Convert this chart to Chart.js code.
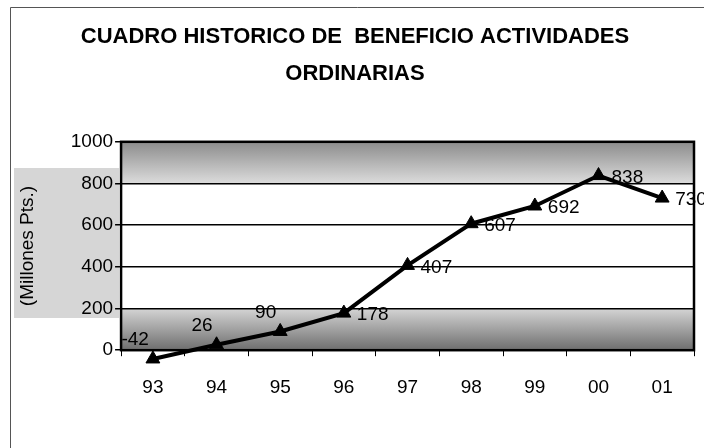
<!DOCTYPE html>
<html>
<head>
<meta charset="utf-8">
<script src="https://cdn.jsdelivr.net/npm/chart.js@4.4.0/dist/chart.umd.min.js"></script>
<style>
  html, body { margin: 0; background: #fff; }
  #wrap { width: 704px; height: 448px; position: relative; }
</style>
</head>
<body>
<div id="wrap"><canvas id="grafico" width="704" height="448"></canvas></div>
<script>
// Datos del cuadro
const anios = ['93', '94', '95', '96', '97', '98', '99', '00', '01'];
const beneficio = [-42, 26, 90, 178, 407, 607, 692, 838, 730];
const ticksY = [0, 200, 400, 600, 800, 1000];
const titulo = ['CUADRO HISTORICO DE  BENEFICIO ACTIVIDADES', 'ORDINARIAS'];
const tituloEje = '(Millones Pts.)';

const fuente = '"Liberation Sans", Arial, sans-serif';

// Fondo: marco exterior y bandas grises del area de trazado
const fondo = {
    id: 'fondo',
    beforeDraw(chart) {
        const { ctx, chartArea: a, scales: { y } } = chart;
        ctx.save();
        ctx.fillStyle = '#fff';
        ctx.fillRect(0, 0, chart.width, chart.height);

        ctx.strokeStyle = '#555';
        ctx.lineWidth = 1;
        ctx.beginPath();
        ctx.moveTo(10.5, chart.height);
        ctx.lineTo(10.5, 7.5);
        ctx.lineTo(chart.width, 7.5);
        ctx.stroke();

        const y1000 = y.getPixelForValue(1000);
        const y800 = y.getPixelForValue(800);
        const y200 = y.getPixelForValue(200);
        const y0 = y.getPixelForValue(0);

        let g = ctx.createLinearGradient(0, y1000, 0, y800);
        g.addColorStop(0, '#8c8c8c');
        g.addColorStop(1, '#dcdcdc');
        ctx.fillStyle = g;
        ctx.fillRect(a.left, y1000, a.right - a.left, y800 - y1000);

        g = ctx.createLinearGradient(0, y200, 0, y0);
        g.addColorStop(0, '#d4d4d4');
        g.addColorStop(1, '#6e6e6e');
        ctx.fillStyle = g;
        ctx.fillRect(a.left, y200, a.right - a.left, y0 - y200);

        ctx.fillStyle = 'rgba(0,0,0,0.16)';
        ctx.fillRect(14, 168, a.left - 16, 150);
        ctx.restore();
    },
    beforeDatasetsDraw(chart) {
        const { ctx, chartArea: a } = chart;
        ctx.save();
        ctx.strokeStyle = '#000';
        ctx.lineWidth = 2.5;
        ctx.strokeRect(a.left, a.top, a.right - a.left, a.bottom - a.top);
        ctx.restore();
    }
};

// Etiquetas de valor junto a cada punto
const etiquetas = {
    id: 'etiquetas',
    afterDatasetsDraw(chart) {
        const ctx = chart.ctx;
        const meta = chart.getDatasetMeta(0);
        ctx.save();
        ctx.font = '19px ' + fuente;
        ctx.fillStyle = '#000';
        ctx.textBaseline = 'middle';
        meta.data.forEach((p, i) => {
            const v = beneficio[i];
            if (v < 100) {
                ctx.textAlign = 'right';
                ctx.fillText(v, p.x - 4, p.y - 19);
            } else {
                ctx.textAlign = 'left';
                ctx.fillText(v, p.x + 13, p.y + 2);
            }
        });
        ctx.restore();
    }
};

new Chart(document.getElementById('grafico').getContext('2d'), {
    type: 'line',
    data: {
        labels: anios,
        datasets: [{
            data: beneficio,
            borderColor: '#000',
            backgroundColor: '#000',
            borderWidth: 4,
            pointStyle: 'triangle',
            pointRadius: 8,
            pointBorderWidth: 1,
            tension: 0,
            clip: false
        }]
    },
    options: {
        responsive: false,
        animation: false,
        layout: {
            padding: { left: 16, right: 10, top: 0, bottom: 29 }
        },
        plugins: {
            legend: { display: false },
            tooltip: { enabled: false },
            title: {
                display: true,
                text: titulo,
                color: '#000',
                font: { family: fuente, size: 22, weight: 'bold', lineHeight: 1.7 },
                padding: { top: 18, bottom: 49 }
            }
        },
        scales: {
            x: {
                offset: true,
                grid: {
                    display: true,
                    drawOnChartArea: false,
                    offset: true,
                    color: '#000',
                    tickLength: 6
                },
                border: { display: false },
                ticks: {
                    color: '#000',
                    padding: 20,
                    font: { family: fuente, size: 19 }
                }
            },
            y: {
                min: 0,
                max: 1000,
                afterBuildTicks(axis) {
                    axis.ticks = ticksY.map(v => ({ value: v }));
                },
                grid: {
                    color: '#000',
                    lineWidth: 1.5,
                    tickLength: 6
                },
                border: { display: false },
                ticks: {
                    color: '#000',
                    padding: 2,
                    font: { family: fuente, size: 19 },
                    callback: v => String(v)
                },
                title: {
                    display: true,
                    text: tituloEje,
                    color: '#000',
                    font: { family: fuente, size: 19 },
                    padding: { top: 0, bottom: 30 }
                }
            }
        }
    },
    plugins: [fondo, etiquetas]
});
</script>
</body>
</html>
